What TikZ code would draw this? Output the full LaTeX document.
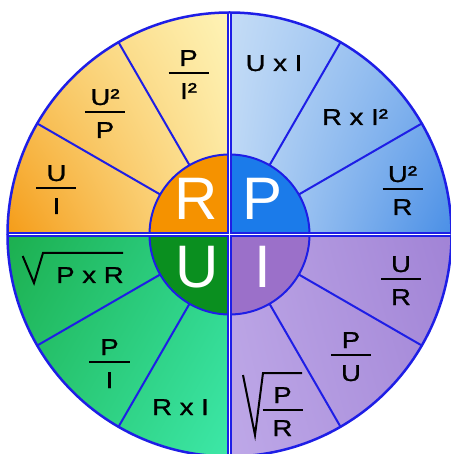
\documentclass[tikz,border=0pt]{standalone}
\usepackage{fontspec}
\usetikzlibrary{shadings}
\setmainfont{Liberation Sans}
\newfontfamily\wfont[FakeStretch=1.2,FakeBold=1]{Liberation Sans}
\definecolor{lineblue}{RGB}{30,30,230}
\definecolor{TLul}{HTML}{F9CF70}
\definecolor{TLur}{HTML}{FEF3B6}
\definecolor{TLll}{HTML}{F59C18}
\definecolor{TLlr}{HTML}{FCE49A}
\definecolor{TRul}{HTML}{C4DCF6}
\definecolor{TRur}{HTML}{86B5EE}
\definecolor{TRll}{HTML}{BCD7F5}
\definecolor{TRlr}{HTML}{4A8FE6}
\definecolor{BLul}{HTML}{1CAF4F}
\definecolor{BLur}{HTML}{2FD48C}
\definecolor{BLll}{HTML}{27C56E}
\definecolor{BLlr}{HTML}{3DE8A8}
\definecolor{BRul}{HTML}{B9A2E3}
\definecolor{BRur}{HTML}{A183D6}
\definecolor{BRll}{HTML}{BEA8E8}
\definecolor{BRlr}{HTML}{A88DDA}
\definecolor{Rcol}{HTML}{F59200}
\definecolor{Pcol}{HTML}{1B7BEA}
\definecolor{Ucol}{HTML}{0A8F1F}
\definecolor{Icol}{HTML}{9B70C9}
\newcommand{\myfrac}[5]{%
  \node[txt] (#1n) at ({#2},{#3+7}) {#4};
  \draw[fbar] ({#2-20},{#3}) -- ({#2+20},{#3});
  \node[txt] (#1d) at ({#2},{#3-26}) {#5};
}
\begin{document}
\begin{tikzpicture}[x=1pt,y=1pt,
  txt/.style={font=\wfont\fontsize{23}{23}\selectfont,inner sep=0pt,text=black,anchor=base},
  big/.style={font=\fontsize{60}{60}\selectfont,inner sep=0pt,text=white,anchor=base},
  fbar/.style={draw=black,line width=2pt},
  seg/.style={draw=lineblue,line width=2pt},
  rad/.style={draw=black,line width=2pt,line join=miter}]
\useasboundingbox (-229.5,-219.5) rectangle (220.5,234.5);
\fill[white] (-229.5,-219.5) rectangle (220.5,234.5);
% outer quadrants
\shade[upper left=TLul, upper right=TLur, lower left=TLll, lower right=TLlr]
  (90:222) arc[start angle=90,end angle=180,radius=222] -- (180:80) arc[start angle=180,end angle=90,radius=80] -- cycle;
\shade[upper left=TRul, upper right=TRur, lower left=TRll, lower right=TRlr]
  (0:222) arc[start angle=0,end angle=90,radius=222] -- (90:80) arc[start angle=90,end angle=0,radius=80] -- cycle;
\shade[upper left=BLul, upper right=BLur, lower left=BLll, lower right=BLlr]
  (180:222) arc[start angle=180,end angle=270,radius=222] -- (270:80) arc[start angle=270,end angle=180,radius=80] -- cycle;
\shade[upper left=BRul, upper right=BRur, lower left=BRll, lower right=BRlr]
  (270:222) arc[start angle=270,end angle=360,radius=222] -- (0:80) arc[start angle=360,end angle=270,radius=80] -- cycle;
% inner quadrants
\fill[Rcol] (0,0) -- (90:80) arc[start angle=90,end angle=180,radius=80] -- cycle;
\fill[Pcol] (0,0) -- (0:80) arc[start angle=0,end angle=90,radius=80] -- cycle;
\fill[Ucol] (0,0) -- (180:80) arc[start angle=180,end angle=270,radius=80] -- cycle;
\fill[Icol] (0,0) -- (270:80) arc[start angle=270,end angle=360,radius=80] -- cycle;
% radial lines
\foreach \a in {30,60,120,150,210,240,300,330} \draw[seg] (\a:80) -- (\a:222);
\draw[seg] (0,0) circle[radius=80];
% double axes
\draw[lineblue,line width=4.6pt] (-222,0) -- (222,0) (0,-222) -- (0,222);
\draw[white,line width=1.4pt] (-221,0) -- (221,0) (0,-221) -- (0,221);
\draw[lineblue,line width=2.5pt] (0,0) circle[radius=222];
% formulas
\myfrac{pi2}{-41}{161.5}{P}{I²}
\myfrac{u2p}{-124.5}{122.5}{U²}{P}
\myfrac{ui}{-173}{46.5}{U}{I}
\node[txt] (uxi) at (44.5,163.5) {U x I};
\node[txt] (rxi2) at (125.5,109.5) {R x I²};
\myfrac{u2r}{173}{45.5}{U²}{R}
\draw[rad] (-206.8,-21.5) -- (-195.5,-48.5) -- (-186.5,-18.5) -- (-106.5,-18.5);
\node[txt] (pxr) at (-139.5,-48.5) {P x R};
\myfrac{pi}{-120}{-127.5}{P}{I}
\node[txt] (rxi) at (-49,-180.5) {R x I};
\myfrac{ur}{171.5}{-44.5}{U}{R}
\myfrac{pu}{121.5}{-120.5}{P}{U}
\draw[rad] (13.5,-140.5) -- (25.5,-200.5) -- (33.5,-138.5) -- (72.5,-138.5);
\myfrac{prr}{53}{-175.5}{P}{R}
% big letters
\node[big] (R) at (-33,14.5) {R};
\node[big] (P) at (33,14.5) {P};
\node[big] (U) at (-32,-53.5) {U};
\node[big] (I) at (33.5,-53.5) {I};
\end{tikzpicture}
\end{document}
